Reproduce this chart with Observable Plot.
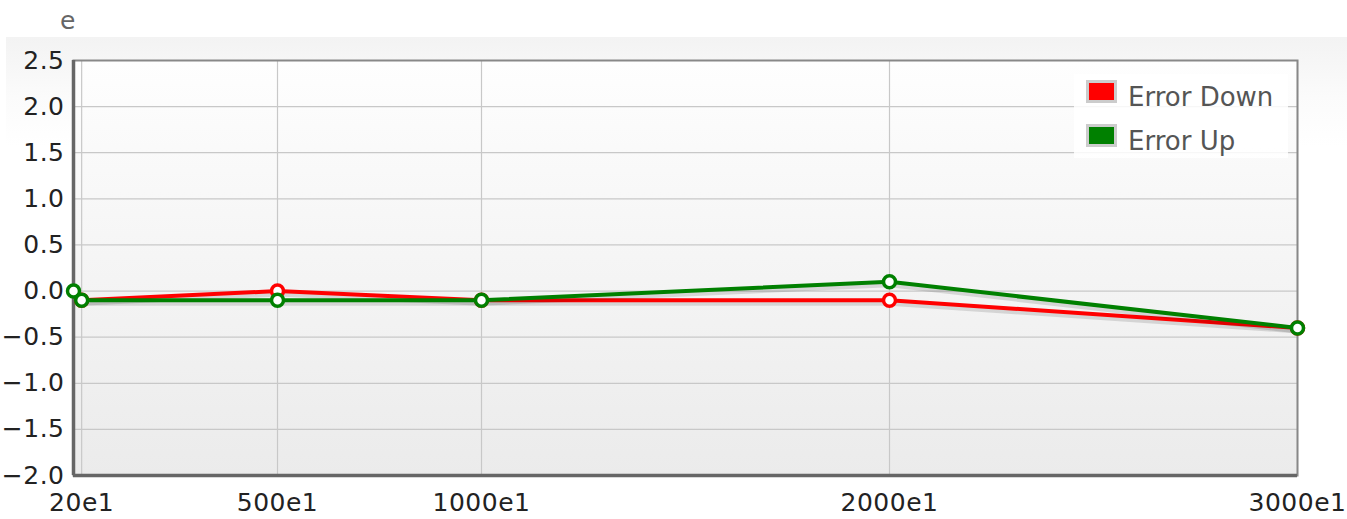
<!DOCTYPE html>
<html>
<head>
<meta charset="utf-8">
<script src="https://cdn.jsdelivr.net/npm/d3@7"></script>
<script src="https://cdn.jsdelivr.net/npm/@observablehq/plot@0.6"></script>
<style>
  html, body { margin: 0; padding: 0; background: #fff; }
  #wrap { position: relative; width: 1347px; height: 519px; overflow: hidden; font-family: "DejaVu Sans", sans-serif; }
  #band { position: absolute; left: 6px; top: 37px; right: 0; bottom: 0;
          background: linear-gradient(to bottom, #f3f3f3 0px, #fbfbfb 60px, #ffffff 110px); }
  #chart { position: absolute; left: 0; top: 0; }
  #ytitle { position: absolute; left: 60px; top: 6px; font-size: 25px; color: #666; }
  #legend { position: absolute; left: 1074px; top: 74px; width: 214px; height: 84px;
            background: rgba(255,255,255,0.85); }
  .item { position: absolute; left: 12px; height: 26px; display: flex; align-items: center; }
  .sw { width: 25px; height: 17px; border: 3px solid #cccccc; box-sizing: content-box; }
  .lab { margin-left: 11px; font-size: 26px; color: #555; line-height: 26px; position: relative; top: 6px; }
  #chart svg g[aria-label="y-axis tick label"] text,
  #chart svg g[aria-label="x-axis tick label"] text { letter-spacing: 0.5px; }
</style>
</head>
<body>
<div id="wrap">
  <div id="band"></div>
  <div id="chart"></div>
  <div id="ytitle">e</div>
  <div id="legend"></div>
</div>
<script>
// ---- data ----
const seriesNames = ["Error Down", "Error Up"];
const seriesColors = ["#ff0000", "#008000"];
const downX = [20, 500, 1000, 2000, 3000];
const downY = [-0.1, 0.0, -0.1, -0.1, -0.4];
const upX = [0, 20, 500, 1000, 2000, 3000];
const upY = [0.0, -0.1, -0.1, -0.1, 0.1, -0.4];
const xTicks = [20, 500, 1000, 2000, 3000];
const xTickLabels = ["20e1", "500e1", "1000e1", "2000e1", "3000e1"];
const yTicks = [-2.0, -1.5, -1.0, -0.5, 0.0, 0.5, 1.0, 1.5, 2.0, 2.5];

const down = downX.map((x, i) => ({x, y: downY[i], s: seriesNames[0]}));
const up = upX.map((x, i) => ({x, y: upY[i], s: seriesNames[1]}));

const defsMark = () => {
  const g = d3.create("svg:g");
  const grad = g.append("defs").append("linearGradient")
    .attr("id", "plotGrad").attr("x1", 0).attr("y1", 0).attr("x2", 0).attr("y2", 1);
  grad.append("stop").attr("offset", "0%").attr("stop-color", "#fefefe");
  grad.append("stop").attr("offset", "100%").attr("stop-color", "#ebebeb");
  return g.node();
};

const seriesMarks = (data, color) => [
  Plot.line(data, {x: "x", y: "y", stroke: "#000", strokeOpacity: 0.12, strokeWidth: 5, dy: 3}),
  Plot.line(data, {x: "x", y: "y", stroke: color, strokeWidth: 4}),
  Plot.dot(data, {x: "x", y: "y", r: 6, fill: "#fff", stroke: color, strokeWidth: 3.5})
];

const chart = Plot.plot({
  width: 1347,
  height: 519,
  marginLeft: 73,
  marginRight: 50,
  marginTop: 60,
  marginBottom: 44,
  style: {fontFamily: "DejaVu Sans, sans-serif", fontSize: "25px", color: "#222", background: "transparent", overflow: "visible"},
  x: {domain: [0, 3000]},
  y: {domain: [-2, 2.5]},
  marks: [
    defsMark,
    Plot.frame({fill: "url(#plotGrad)"}),
    Plot.gridX(xTicks, {stroke: "#c8c8c8", strokeOpacity: 1, strokeWidth: 1.2}),
    Plot.gridY(yTicks, {stroke: "#c8c8c8", strokeOpacity: 1, strokeWidth: 1.2}),
    Plot.frame({stroke: "#888", strokeWidth: 2}),
    Plot.ruleX([0], {stroke: "#666", strokeWidth: 3.5}),
    Plot.ruleY([-2], {stroke: "#666", strokeWidth: 3.5}),
    Plot.axisY({ticks: yTicks, tickSize: 0, tickPadding: 9, fontSize: 25, tickFormat: d3.format(".1f"), label: null, fill: "#222"}),
    Plot.axisX({ticks: xTicks, tickSize: 0, tickPadding: 18, fontSize: 25, tickFormat: (d) => xTickLabels[xTicks.indexOf(d)], label: null, fill: "#222"}),
    ...seriesMarks(down, seriesColors[0]),
    ...seriesMarks(up, seriesColors[1])
  ]
});
document.getElementById("chart").appendChild(chart);

const legend = document.getElementById("legend");
seriesNames.forEach((name, i) => {
  const item = document.createElement("div");
  item.className = "item";
  item.style.top = (4 + i * 44) + "px";
  const sw = document.createElement("div");
  sw.className = "sw";
  sw.style.background = seriesColors[i];
  const lab = document.createElement("div");
  lab.className = "lab";
  lab.textContent = name;
  item.appendChild(sw);
  item.appendChild(lab);
  legend.appendChild(item);
});
</script>
</body>
</html>
